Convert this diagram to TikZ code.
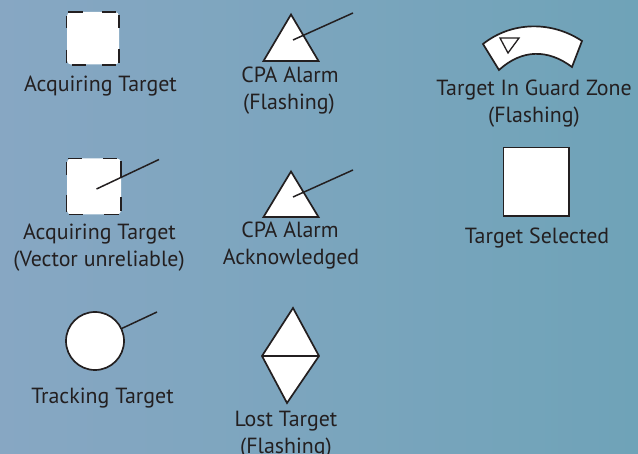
\documentclass[tikz,border=0pt]{standalone}
\usepackage{fontspec}
\setmainfont{PT Sans}
\definecolor{bgleft}{HTML}{87A7C3}
\definecolor{bgright}{HTML}{6FA3B8}
\definecolor{ink}{HTML}{231F20}
\tikzset{
  lbl/.style={anchor=base,text=ink,inner sep=0pt,font=\fontsize{21.9}{26}\selectfont},
  sym/.style={draw=ink,fill=white,line width=1.7pt,line join=miter},
  dsh/.style={draw=ink,line width=1.9pt},
  vec/.style={draw=ink,line width=1.5pt}
}
\begin{document}
\begin{tikzpicture}[x=1pt,y=-1pt]
\useasboundingbox (0,0) rectangle (638,454);
\clip (0,0) rectangle (638,454);
\shade[left color=bgleft,right color=bgright] (0,0) rectangle (638,454);
% acquiring target
\fill[white,rounded corners=4pt] (67,12) rectangle (119,64.5);
\draw[dsh] (68,12)--(83,12) (102,12)--(116,12) (72,64.7)--(86,64.7) (102,64.7)--(116,64.7)
  (66.5,16)--(66.5,28) (66.5,50)--(66.5,63) (119,15)--(119,28) (119,49)--(119,63);
\node[lbl] (t1) at (100.5,91.5) {Acquiring Target};
% acquiring target, vector unreliable
\fill[white,rounded corners=4pt] (67,158.5) rectangle (121,214.5);
\draw[dsh] (68,158.5)--(82,158.5) (103,158.5)--(117,158.5) (69,214.5)--(83,214.5) (104,214.5)--(119,214.5)
  (66.5,162)--(66.5,175) (66.5,195)--(66.5,212) (121,161)--(121,177) (121,197)--(121,211);
\coordinate (a1) at (96.5,189); \coordinate (a2) at (159,159.5);
\draw[vec] (a1)--(a2);
\node[lbl] (t2) at (99.5,239.5) {Acquiring Target};
\node[lbl] (t3) at (99,266.5) {(Vector unreliable)};
% tracking target
\node[circle,sym,minimum size=58pt,inner sep=0pt] (c) at (95,341) {};
\coordinate (c2) at (157,312);
\draw[vec] (c) -- (c2);
\node[lbl] (t4) at (102.5,403.5) {Tracking Target};
% CPA alarm
\draw[sym] (291,14.5)--(318.5,61)--(263.5,61)--cycle;
\coordinate (b1) at (293,40); \coordinate (b2) at (353,13);
\draw[vec] (b1)--(b2);
\node[lbl] (t5) at (290,82.5) {CPA Alarm};
\node[lbl] (t6) at (289,109.5) {(Flashing)};
% CPA acknowledged
\draw[sym] (291,171.5)--(318.5,217)--(263.5,217)--cycle;
\coordinate (d1) at (293,197); \coordinate (d2) at (353,170);
\draw[vec] (d1)--(d2);
\node[lbl] (t7) at (290,237.5) {CPA Alarm};
\node[lbl] (t8) at (291,264.5) {Acknowledged};
% lost target
\draw[sym] (293,308)--(319,356)--(287,403)--(262,356)--cycle;
\coordinate (e1) at (262,356); \coordinate (e2) at (319,356);
\draw[draw=ink,line width=2.2pt] (e1)--(e2);
\node[lbl] (t9) at (286,426.5) {Lost Target};
\node[lbl] (t10) at (286,453.5) {(Flashing)};
% guard zone
\draw[sym] (483,44) .. controls (512,21) and (552,21) .. (582,41) -- (572,67)
  .. controls (548,49) and (522,49) .. (499,70) -- cycle;
\draw[draw=ink,fill=white,line width=1.3pt] (500,38)--(519,38)--(508,53)--cycle;
\node[lbl] (t11) at (534,95.5) {Target In Guard Zone};
\node[lbl] (t12) at (534,122.5) {(Flashing)};
% target selected
\draw[sym] (503.5,147.5) rectangle (569,216);
\node[lbl] (t13) at (537,243.5) {Target Selected};
\end{tikzpicture}
\end{document}
